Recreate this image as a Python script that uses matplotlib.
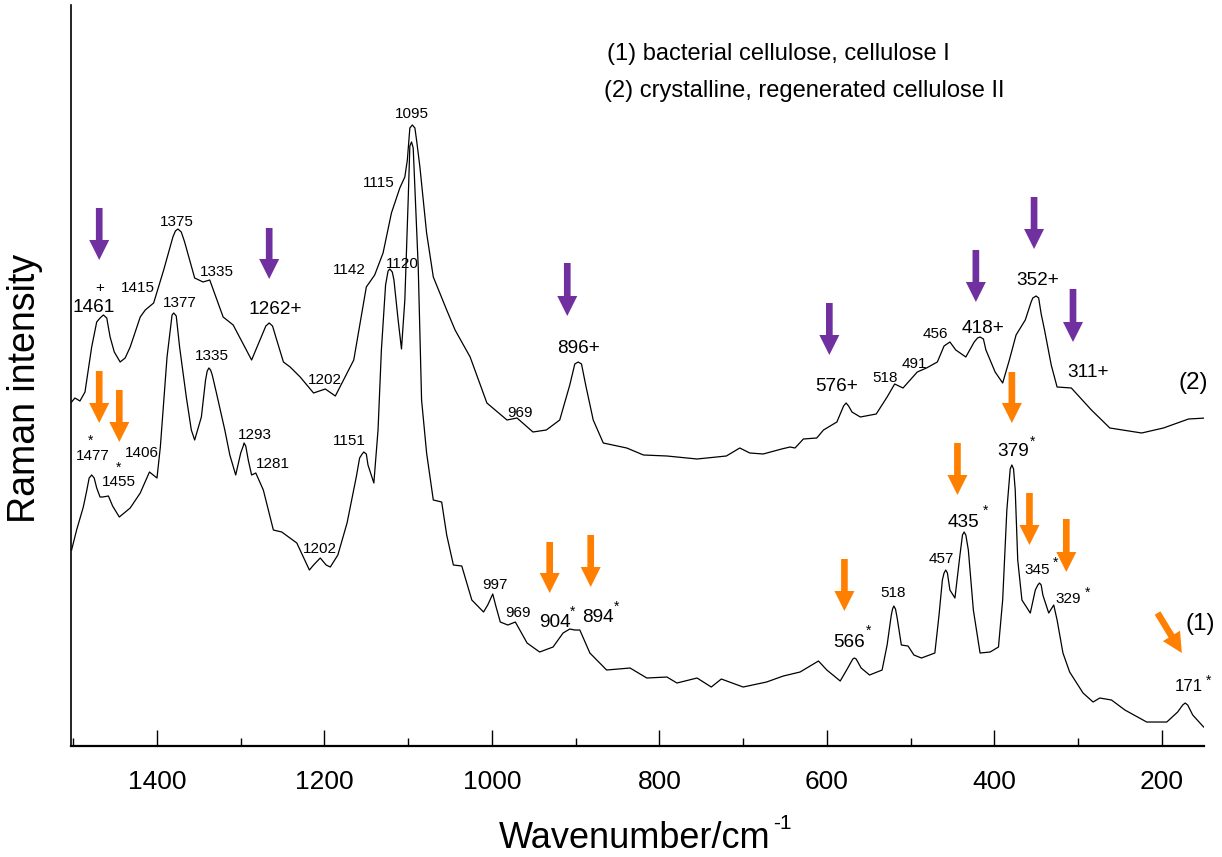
import matplotlib
matplotlib.use("Agg")
import matplotlib.pyplot as plt

plt.rcParams['font.family'] = ['Liberation Sans', 'DejaVu Sans']

# ---------------- data ----------------
# (2) crystalline, regenerated cellulose II  (upper trace)
wn2 = [1502, 1498, 1492, 1486, 1478, 1472, 1468, 1464, 1460, 1456,
       1451, 1444, 1438, 1432, 1420, 1414, 1404, 1392, 1381, 1378,
       1375, 1371, 1367, 1355, 1345, 1337, 1321, 1309, 1287, 1277,
       1270, 1266, 1262, 1257, 1249, 1241, 1229, 1213, 1199, 1187,
       1165, 1150, 1140, 1130, 1120, 1110, 1104, 1101, 1098, 1095,
       1092, 1090, 1086, 1078, 1070, 1054, 1044, 1026, 1006, 982,
       970, 951, 935, 919, 907, 901, 897, 893, 888, 879,
       867, 839, 819, 791, 755, 720, 704, 692, 676, 654,
       644, 638, 628, 612, 604, 588, 580, 577, 574, 570,
       560, 541, 528, 519, 509, 492, 481, 468, 460, 453,
       446, 434, 424, 420, 417, 413, 410, 399, 390, 382,
       374, 363, 356, 354, 350, 347, 344, 340, 332, 325,
       308, 284, 262, 224, 198, 168, 147]
int2 = [344, 348, 345, 354, 399, 424, 428, 431, 428, 409,
        394, 384, 388, 399, 429, 436, 443, 476, 509, 515,
        517, 514, 504, 468, 464, 466, 429, 421, 386, 406,
        420, 423, 420, 406, 384, 379, 369, 353, 357, 350,
        386, 459, 471, 493, 533, 558, 569, 586, 618, 621,
        618, 606, 579, 513, 469, 436, 416, 389, 343, 326,
        328, 314, 316, 326, 361, 382, 384, 382, 361, 326,
        303, 298, 291, 290, 287, 290, 298, 293, 292, 297,
        299, 298, 307, 308, 316, 324, 340, 343, 340, 334,
        329, 332, 349, 362, 358, 374, 378, 384, 400, 404,
        396, 389, 404, 408, 409, 407, 396, 374, 363, 386,
        411, 426, 444, 448, 450, 448, 432, 416, 381, 359,
        358, 336, 318, 313, 318, 327, 328]

# (1) bacterial cellulose, cellulose I  (lower trace)
wn1 = [1502, 1496, 1488, 1484, 1481, 1478, 1475, 1472, 1468, 1465,
       1458, 1453, 1445, 1432, 1420, 1409, 1400, 1396, 1388, 1382,
       1380, 1377, 1373, 1365, 1359, 1355, 1347, 1342, 1340, 1338,
       1336, 1334, 1329, 1319, 1313, 1306, 1300, 1297, 1296, 1294,
       1291, 1287, 1282, 1273, 1261, 1251, 1233, 1218, 1213, 1205,
       1198, 1193, 1184, 1173, 1162, 1158, 1155, 1153, 1150, 1148,
       1141, 1136, 1132, 1127, 1124, 1122, 1119, 1117, 1112, 1108,
       1104, 1100, 1098, 1096, 1094, 1088, 1084, 1078, 1070, 1060,
       1054, 1046, 1036, 1024, 1010, 1005, 999, 995, 990, 981,
       972, 958, 943, 927, 915, 907, 901, 895, 883, 863,
       835, 815, 791, 779, 755, 738, 726, 700, 672, 652,
       632, 610, 600, 584, 575, 569, 567, 565, 559, 549,
       534, 528, 523, 521.5, 520, 518, 516, 511, 503, 496,
       487, 471, 466, 462, 460, 458, 456, 453, 447, 441,
       438, 436, 434, 431, 425, 417, 405, 395, 390, 385,
       381, 379, 377, 375, 372, 367, 357, 351, 348, 346,
       344, 342, 335, 329, 325, 318, 310, 294, 282, 274,
       260, 244, 218, 194, 181, 175, 172, 169, 163, 150]
int1 = [196, 216, 239, 255, 268, 271, 268, 258, 249, 249,
        250, 240, 229, 238, 253, 274, 268, 299, 389, 431,
        433, 430, 399, 349, 316, 306, 329, 366, 375, 378,
        376, 371, 353, 316, 291, 271, 293, 300, 303, 300,
        286, 271, 273, 256, 216, 214, 203, 176, 181, 188,
        181, 179, 191, 223, 269, 288, 292, 294, 292, 281,
        263, 316, 396, 461, 475, 477, 474, 466, 426, 397,
        446, 546, 600, 604, 598, 479, 346, 293, 246, 244,
        211, 181, 180, 146, 134, 141, 152, 139, 124, 121,
        124, 103, 94, 99, 113, 117, 116, 116, 93, 76,
        78, 68, 69, 63, 68, 59, 67, 59, 64, 70,
        74, 85, 76, 65, 78, 87, 88, 87, 78, 71,
        76, 101, 131, 137, 140, 137, 128, 101, 100, 91,
        88, 93, 131, 166, 173, 176, 173, 156, 148, 191,
        211, 214, 211, 196, 136, 93, 94, 99, 146, 236,
        277, 281, 277, 256, 186, 146, 133, 156, 161, 163,
        161, 151, 133, 141, 126, 93, 74, 53, 44, 48,
        46, 36, 24, 24, 34, 41, 43, 41, 31, 19]

x_major = [1400, 1200, 1000, 800, 600, 400, 200]
x_minor = [1500, 1300, 1100, 900, 700, 500, 300]

# peak labels: (text, wavenumber, intensity baseline, size class)
labels2 = [("+", 1468, 454, "S"), ("1461", 1476, 434, "L"), ("1415", 1423, 454, "S"),
           ("1375", 1376, 520, "S"), ("1335", 1328, 470, "S"), ("1262+", 1259, 432, "L"),
           ("1202", 1199, 362, "S"), ("1142", 1170, 472, "S"), ("1120", 1107, 478, "S"),
           ("1115", 1135, 559, "S"), ("1095", 1095, 628, "S"), ("969", 966, 329, "S"),
           ("896+", 897, 393, "L"), ("576+", 588, 355, "L"), ("518", 530, 364, "S"),
           ("491", 495, 378, "S"), ("456", 470, 408, "S"), ("418+", 413, 413, "L"),
           ("352+", 348, 461, "L"), ("311+", 288, 369, "L"), ("(2)", 162, 357, "X")]
labels1 = [("1477", 1477, 286, "S"), ("1455", 1446, 260, "S"), ("1406", 1418, 289, "S"),
           ("1377", 1373, 439, "S"), ("1335", 1335, 386, "S"), ("1293", 1283, 307, "S"),
           ("1281", 1262, 278, "S"), ("1202", 1205, 193, "S"), ("1151", 1170, 301, "S"),
           ("997", 996, 157, "S"), ("969", 969, 129, "S"), ("904", 925, 119, "L"),
           ("894", 873, 124, "L"), ("566", 573, 99, "L"), ("518", 521, 149, "S"),
           ("457", 463, 183, "S"), ("435", 437, 219, "L"), ("379", 378, 290, "L"),
           ("345", 349, 172, "S"), ("329", 312, 143, "S"), ("171", 168, 55, "M"),
           ("(1)", 154, 116, "X")]
# asterisks: (wavenumber, intensity baseline)
stars = [(1479, 301), (1446, 274), (904, 130), (851, 135), (550, 111), (411, 231),
         (354, 300), (327, 179), (289, 149), (144, 61)]

# arrows: (wavenumber tail, intensity tail, wavenumber tip, intensity tip)
purple_arrows = [(1469, 538, 1469, 486), (1266, 518, 1266, 467), (910, 483, 910, 430),
                 (597, 443, 597, 391), (422, 496, 422, 444), (352.5, 549, 352.5, 497),
                 (306, 457, 306, 404)]
orange_arrows = [(1469, 375, 1469, 323), (1445, 356, 1445, 304), (931, 204, 931, 153),
                 (882, 211, 882, 159), (579, 187, 579, 135), (444, 303, 444, 251),
                 (379, 374, 379, 323), (358, 253, 358, 201), (314, 227, 314, 174),
                 (205, 133, 176, 93)]

legend_lines = ["(1) bacterial cellulose, cellulose I",
                "(2) crystalline, regenerated cellulose II"]

PURPLE = "#7030A0"
ORANGE = "#FF8000"
SIZES = {"S": 11, "M": 12.2, "L": 13.7, "X": 17.5}

# ---------------- figure ----------------
fig = plt.figure(figsize=(12.22, 8.57), dpi=100)
ax = fig.add_axes([0.0581, 0.1295, 0.9272, 0.8647])

ax.plot(wn2, int2, color="black", lw=0.9, solid_joinstyle="round")
ax.plot(wn1, int1, color="black", lw=0.9, solid_joinstyle="round")

ax.set_xlim(1502.7, 149.5)
ax.set_ylim(0, 741)
ax.spines[["top", "right"]].set_visible(False)
ax.spines["left"].set_linewidth(1.2)
ax.spines["bottom"].set_linewidth(1.6)
ax.set_yticks([])
ax.set_xticks(x_major)
ax.set_xticklabels([str(v) for v in x_major])
ax.set_xticks(x_minor, minor=True)
ax.tick_params(axis="x", which="major", direction="in", length=11.5, width=1,
               labelsize=19, pad=17)
ax.tick_params(axis="x", which="minor", direction="in", length=5.8, width=1)

for txt, w, y, s in labels2 + labels1:
    ax.text(w, y, txt, fontsize=SIZES[s], ha="center", va="baseline")
for w, y in stars:
    ax.text(w, y, "*", fontsize=10, ha="center", va="baseline", clip_on=False)

style = "simple,head_length=14.4,head_width=14.4,tail_width=4.8"
for arrows, col in ((purple_arrows, PURPLE), (orange_arrows, ORANGE)):
    for w0, y0, w1, y1 in arrows:
        ax.annotate("", xy=(w1, y1), xytext=(w0, y0),
                    arrowprops=dict(arrowstyle=style, mutation_scale=1,
                                    shrinkA=0, shrinkB=0, fc=col, ec="none"))

fig.text(606.7 / 1222, 1 - 60 / 857, legend_lines[0], fontsize=17, ha="left", va="baseline")
fig.text(604 / 1222, 1 - 97 / 857, legend_lines[1], fontsize=17, ha="left", va="baseline")

fig.text(35 / 1222, 1 - 388 / 857, "Raman intensity", rotation=90, rotation_mode="anchor",
         ha="center", va="baseline", fontsize=27)
xl = fig.text(635 / 1222, 1 - 848 / 857, "Wavenumber/cm", ha="center", va="baseline",
              fontsize=26)
ax.annotate("-1", xy=(1, 1), xycoords=xl, xytext=(1.5, 5), textcoords="offset points",
            ha="left", va="top", fontsize=15, annotation_clip=False)

fig.savefig("out.png", dpi=100)
